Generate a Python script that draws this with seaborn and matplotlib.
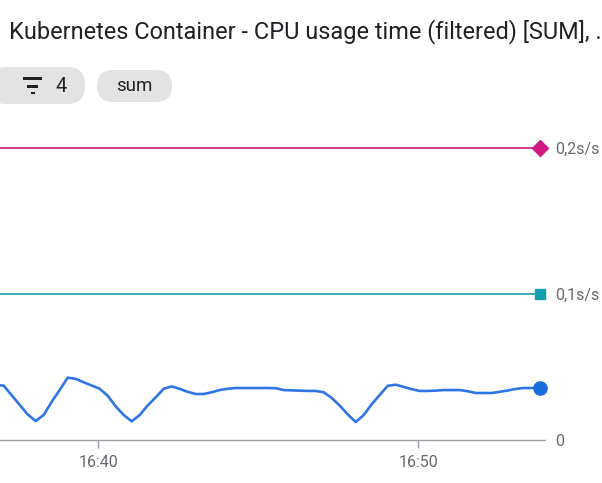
import pandas as pd
import seaborn as sns
import matplotlib.pyplot as plt
import matplotlib.dates as mdates
from matplotlib.patches import FancyBboxPatch, Rectangle

# Series data (15 s steps), values in s/s
start_time = "2024-01-01 16:36:48"
cpu_usage = [
    0.0377, 0.0372, 0.0306, 0.0240, 0.0175, 0.0130, 0.0172, 0.0262, 0.0343, 0.0427,
    0.0419, 0.0395, 0.0373, 0.0351, 0.0303, 0.0230, 0.0171, 0.0128, 0.0171, 0.0237,
    0.0292, 0.0351, 0.0367, 0.0350, 0.0330, 0.0315, 0.0315, 0.0327, 0.0342, 0.0351,
    0.0356, 0.0356, 0.0356, 0.0356, 0.0356, 0.0355, 0.0342, 0.0340, 0.0338, 0.0336,
    0.0336, 0.0327, 0.0288, 0.0236, 0.0176, 0.0123, 0.0171, 0.0245, 0.0308, 0.0371,
    0.0379, 0.0364, 0.0348, 0.0336, 0.0336, 0.0338, 0.0342, 0.0342, 0.0342, 0.0334,
    0.0322, 0.0322, 0.0322, 0.0330, 0.0339, 0.0350, 0.0356, 0.0356, 0.0356,
]
limit_high = 0.2
limit_low = 0.1
y_ticks = [0, 0.1, 0.2]
y_labels = ["0", "0,1s/s", "0,2s/s"]
title = "Kubernetes Container - CPU usage time (filtered) [SUM], ."
chip_labels = ["4", "sum"]

times = pd.date_range(start_time, periods=len(cpu_usage), freq="15s")
df = pd.DataFrame({"time": times, "value": cpu_usage})
lim_df = pd.DataFrame({"time": [times[0], times[-1]]})
lim_df["high"] = limit_high
lim_df["low"] = limit_low

sns.set_theme(style="white")
plt.rcParams["font.family"] = ["Roboto", "DejaVu Sans"]

W, H = 602, 483
fig = plt.figure(figsize=(W / 100, H / 100), dpi=100)

# overlay in pixel coords for header
over = fig.add_axes([0, 0, 1, 1])
over.set_xlim(0, W)
over.set_ylim(H, 0)
over.axis("off")
over.text(9, 31.5, title, fontsize=16.9, color="#202124", va="center", ha="left")

chip_col = "#e3e3e3"
over.add_patch(FancyBboxPatch((-12, 67), 97, 37, boxstyle="round,pad=0,rounding_size=18",
                              fc=chip_col, ec="none"))
over.add_patch(FancyBboxPatch((97, 70), 75, 32, boxstyle="round,pad=0,rounding_size=16",
                              fc=chip_col, ec="none"))
# filter icon
for x0, w, y0 in [(23, 19, 77), (27, 11, 85), (31, 4, 91.5)]:
    over.add_patch(Rectangle((x0, y0), w, 2.8, fc="#202124", ec="none"))
over.text(55, 86, chip_labels[0], fontsize=14.5, color="#202124", va="center", ha="left")
over.text(134.5, 86, chip_labels[1], fontsize=13.5, color="#202124", va="center", ha="center")

# main chart
x0 = mdates.date2num(pd.Timestamp("2024-01-01 16:36:56"))
x1 = mdates.date2num(pd.Timestamp("2024-01-01 16:53:58"))
ymax = 0.212
ax = fig.add_axes([0, (H - 440) / H, 545 / W, (ymax * 1460) / H])
ax.patch.set_alpha(0)

sns.lineplot(data=lim_df, x="time", y="high", ax=ax, color="#d01a84", lw=1.2)
sns.lineplot(data=lim_df, x="time", y="low", ax=ax, color="#12a0ae", lw=1.2)
sns.lineplot(data=df, x="time", y="value", ax=ax, color="#2f76e2", lw=1.9)

ax.plot(times[-1], limit_high, marker="D", ms=8.5, color="#d01a84", clip_on=False)
ax.plot(times[-1], limit_low, marker="s", ms=7.5, color="#12a0ae", clip_on=False)
ax.plot(times[-1], cpu_usage[-1], marker="o", ms=9.5, color="#1a6ddc", clip_on=False)

ax.set_xlim(x0, x1)
ax.set_ylim(0, ymax)
ax.xaxis.set_major_locator(mdates.MinuteLocator(byminute=[40, 50]))
ax.xaxis.set_major_formatter(mdates.DateFormatter("%H:%M"))
ax.yaxis.tick_right()
ax.set_yticks(y_ticks)
ax.set_yticklabels(y_labels)
ax.tick_params(axis="y", length=0, pad=7.5, labelsize=11.5, labelcolor="#666a6e")
ax.tick_params(axis="x", length=6, width=1, color="#9aa0a6", pad=5,
               labelsize=11.5, labelcolor="#666a6e", bottom=True)
ax.set_xlabel("")
ax.set_ylabel("")
for s in ["top", "left", "right"]:
    ax.spines[s].set_visible(False)
ax.spines["bottom"].set_color("#9aa0a6")
ax.spines["bottom"].set_linewidth(1)

fig.savefig("out.png", dpi=100)
